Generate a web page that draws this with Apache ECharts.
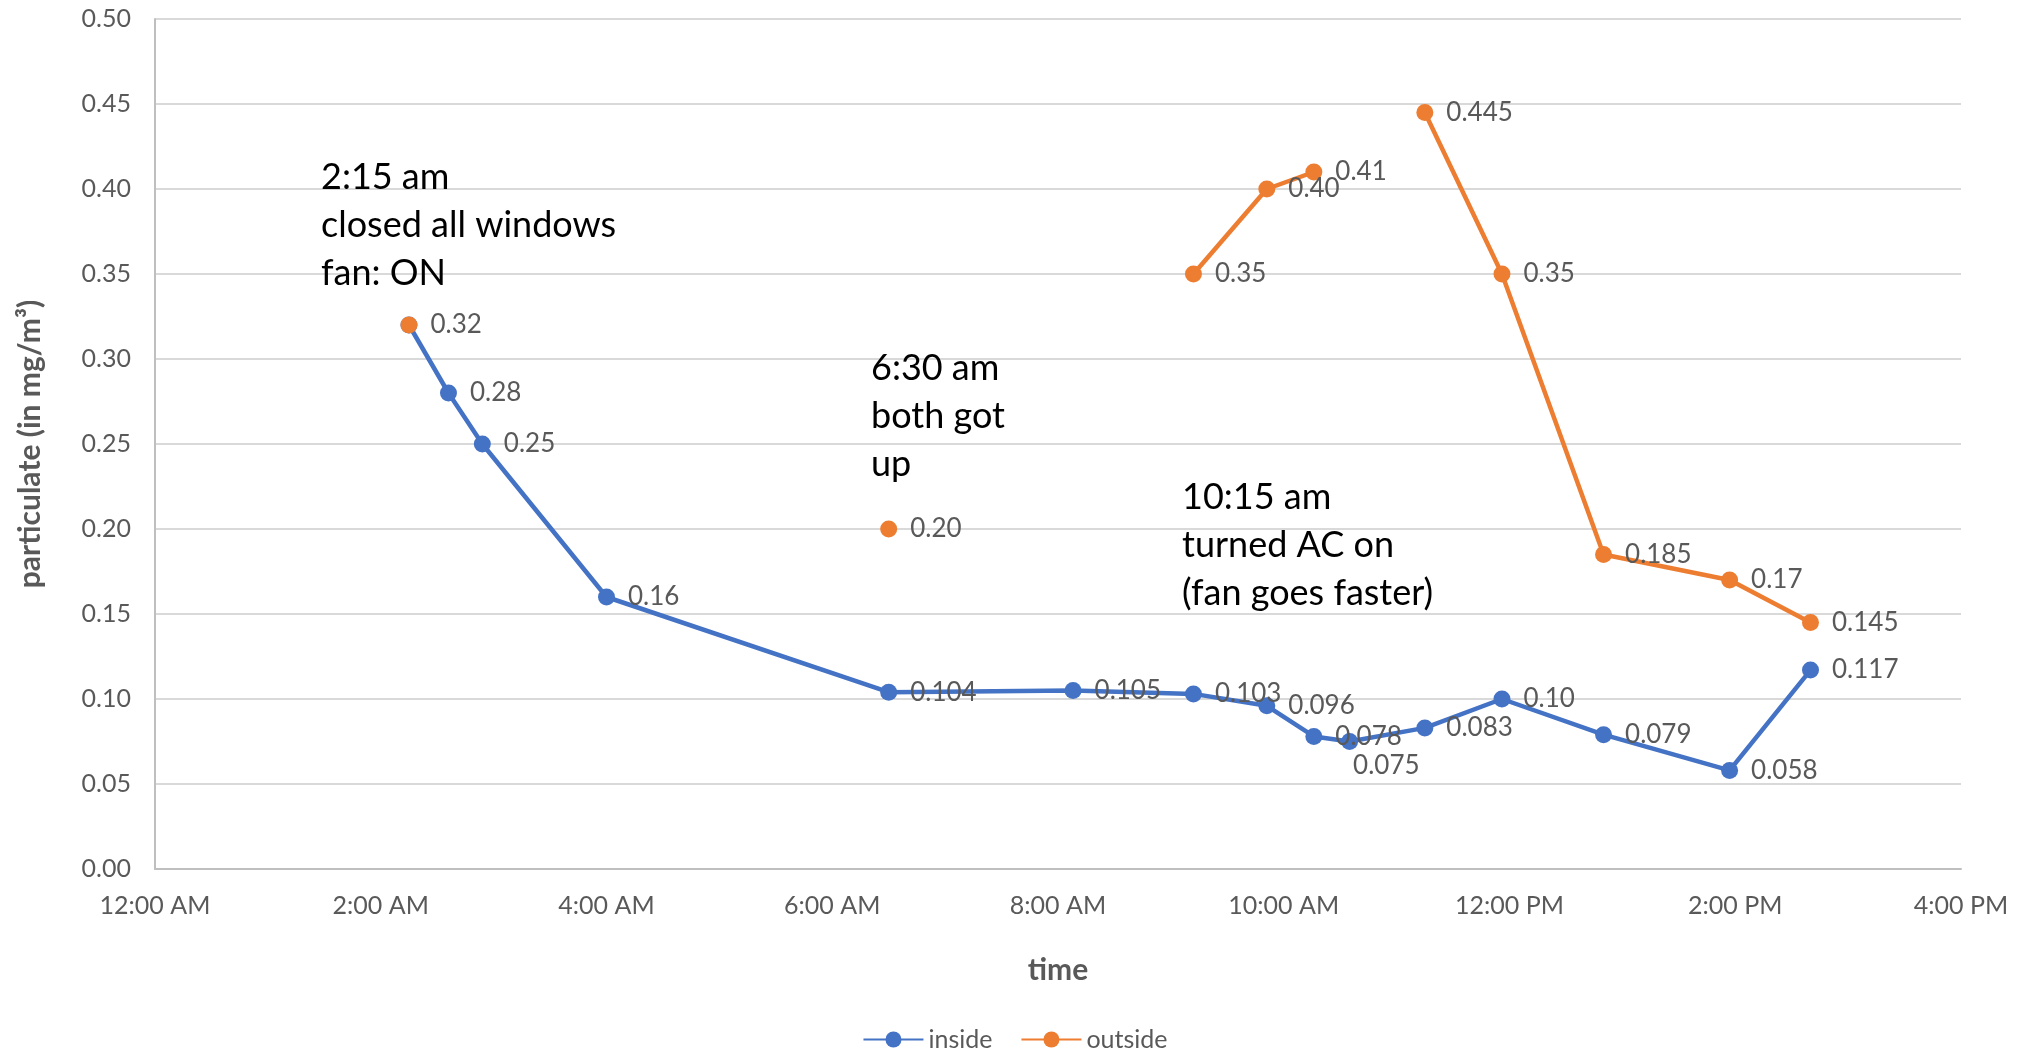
<!DOCTYPE html>
<html>
<head>
<meta charset="utf-8">
<title>Particulate inside vs outside</title>
<script src="https://cdn.jsdelivr.net/npm/echarts@6/dist/echarts.min.js"></script>
<style>
  html, body { margin: 0; padding: 0; background: #fff; }
  #chart { width: 2030px; height: 1057px; }
</style>
</head>
<body>
<div id="chart"></div>
<script>
// Measurement times (24h clock) shared by both series
const times = ['2:15', '2:36', '2:54', '4:00', '6:30', '8:08', '9:12', '9:51', '10:16', '10:35', '11:15', '11:56', '12:50', '13:57', '14:40'];
// Particulate readings in mg/m³ (null = no reading at that time)
const inside  = [0.32, 0.28, 0.25, 0.16, 0.104, 0.105, 0.103, 0.096, 0.078, 0.075, 0.083, 0.10, 0.079, 0.058, 0.117];
const outside = [0.32, null, null, null, 0.20, null, 0.35, 0.40, 0.41, null, 0.445, 0.35, 0.185, 0.17, 0.145];
// Axis ticks: hours from midnight, and y values
const xTicks = [0, 2, 4, 6, 8, 10, 12, 14, 16];
const yTicks = [0, 0.05, 0.10, 0.15, 0.20, 0.25, 0.30, 0.35, 0.40, 0.45, 0.50];
// Event notes drawn on the plot
const notes = [
  ['2:15 am', 'closed all windows', 'fan: ON'],
  ['6:30 am', 'both got', 'up'],
  ['10:15 am', 'turned AC on', '(fan goes faster)']
];

const FONT = 'Lato, "Open Sans", sans-serif';
const GRAY = '#595959';
const BLUE = '#4472C4';
const ORANGE = '#ED7D31';

function toHours(t) {
  const [h, m] = t.split(':').map(Number);
  return h + m / 60;
}
function hourLabel(h) {
  const hh = h % 12 === 0 ? 12 : h % 12;
  const suffix = (h % 24) < 12 ? 'AM' : 'PM';
  return hh + ':00 ' + suffix;
}
function valueLabel(v) {
  return Math.abs(v * 100 - Math.round(v * 100)) < 1e-9 ? v.toFixed(2) : v.toFixed(3);
}

const labelBase = {
  show: true,
  position: 'right',
  distance: 13,
  color: GRAY,
  fontFamily: FONT,
  fontSize: 26,
  formatter: p => valueLabel(p.value[1])
};

function buildData(values, overrides) {
  return times.map((t, i) => {
    const v = values[i];
    const item = { value: [toHours(t), v == null ? '-' : v] };
    if (overrides && overrides[i]) item.label = overrides[i];
    return item;
  });
}

// the 0.075 reading sits under its neighbour, so its label is dropped below
const insideData = buildData(inside, { 9: { offset: [-18, 24] } });
// the shared 2:15 reading is labelled once (by the inside series)
const outsideData = buildData(outside, { 0: { show: false } });

const chart = echarts.init(document.getElementById('chart'), null, { renderer: 'canvas' });

const noteGraphics = [
  { left: 321, top: 153, lines: notes[0] },
  { left: 871, top: 344, lines: notes[1] },
  { left: 1182, top: 473, lines: notes[2] }
].map(n => ({
  type: 'text',
  left: n.left,
  top: n.top,
  z: 100,
  style: {
    text: n.lines.join('\n'),
    fill: '#000',
    font: '36px ' + FONT,
    lineHeight: 48
  }
}));

chart.setOption({
  backgroundColor: '#fff',
  animation: false,
  grid: { left: 155, right: 69, top: 19, bottom: 188, containLabel: false },
  xAxis: {
    type: 'value',
    min: xTicks[0],
    max: xTicks[xTicks.length - 1],
    interval: 2,
    name: 'time',
    nameLocation: 'middle',
    nameGap: 86,
    nameTextStyle: { fontFamily: FONT, fontSize: 30, fontWeight: 'bold', color: GRAY },
    axisLine: { show: true, lineStyle: { color: '#BFBFBF', width: 2 } },
    axisTick: { show: false },
    splitLine: { show: false },
    axisLabel: {
      margin: 24,
      color: GRAY,
      fontFamily: FONT,
      fontSize: 25,
      formatter: v => hourLabel(v)
    }
  },
  yAxis: {
    type: 'value',
    min: yTicks[0],
    max: yTicks[yTicks.length - 1],
    interval: 0.05,
    name: 'particulate (in mg/m³)',
    nameLocation: 'middle',
    nameGap: 110,
    nameTextStyle: { fontFamily: FONT, fontSize: 30, fontWeight: 'bold', color: GRAY },
    axisLine: { show: true, lineStyle: { color: '#BFBFBF', width: 2 } },
    axisTick: { show: false },
    splitLine: { show: true, lineStyle: { color: '#D9D9D9', width: 2 } },
    axisLabel: {
      margin: 24,
      color: GRAY,
      fontFamily: FONT,
      fontSize: 25,
      formatter: v => v.toFixed(2)
    }
  },
  legend: {
    data: ['inside', 'outside'],
    left: 'center',
    top: 1022,
    itemWidth: 60,
    itemHeight: 20,
    itemGap: 28,
    textStyle: { color: GRAY, fontFamily: FONT, fontSize: 25 }
  },
  series: [
    {
      name: 'inside',
      type: 'line',
      data: insideData,
      symbol: 'circle',
      symbolSize: 17,
      connectNulls: false,
      itemStyle: { color: BLUE },
      lineStyle: { color: BLUE, width: 4.5 },
      label: labelBase
    },
    {
      name: 'outside',
      type: 'line',
      data: outsideData,
      symbol: 'circle',
      symbolSize: 17,
      connectNulls: false,
      itemStyle: { color: ORANGE },
      lineStyle: { color: ORANGE, width: 4.5 },
      label: labelBase
    }
  ],
  graphic: noteGraphics
});
</script>
</body>
</html>
